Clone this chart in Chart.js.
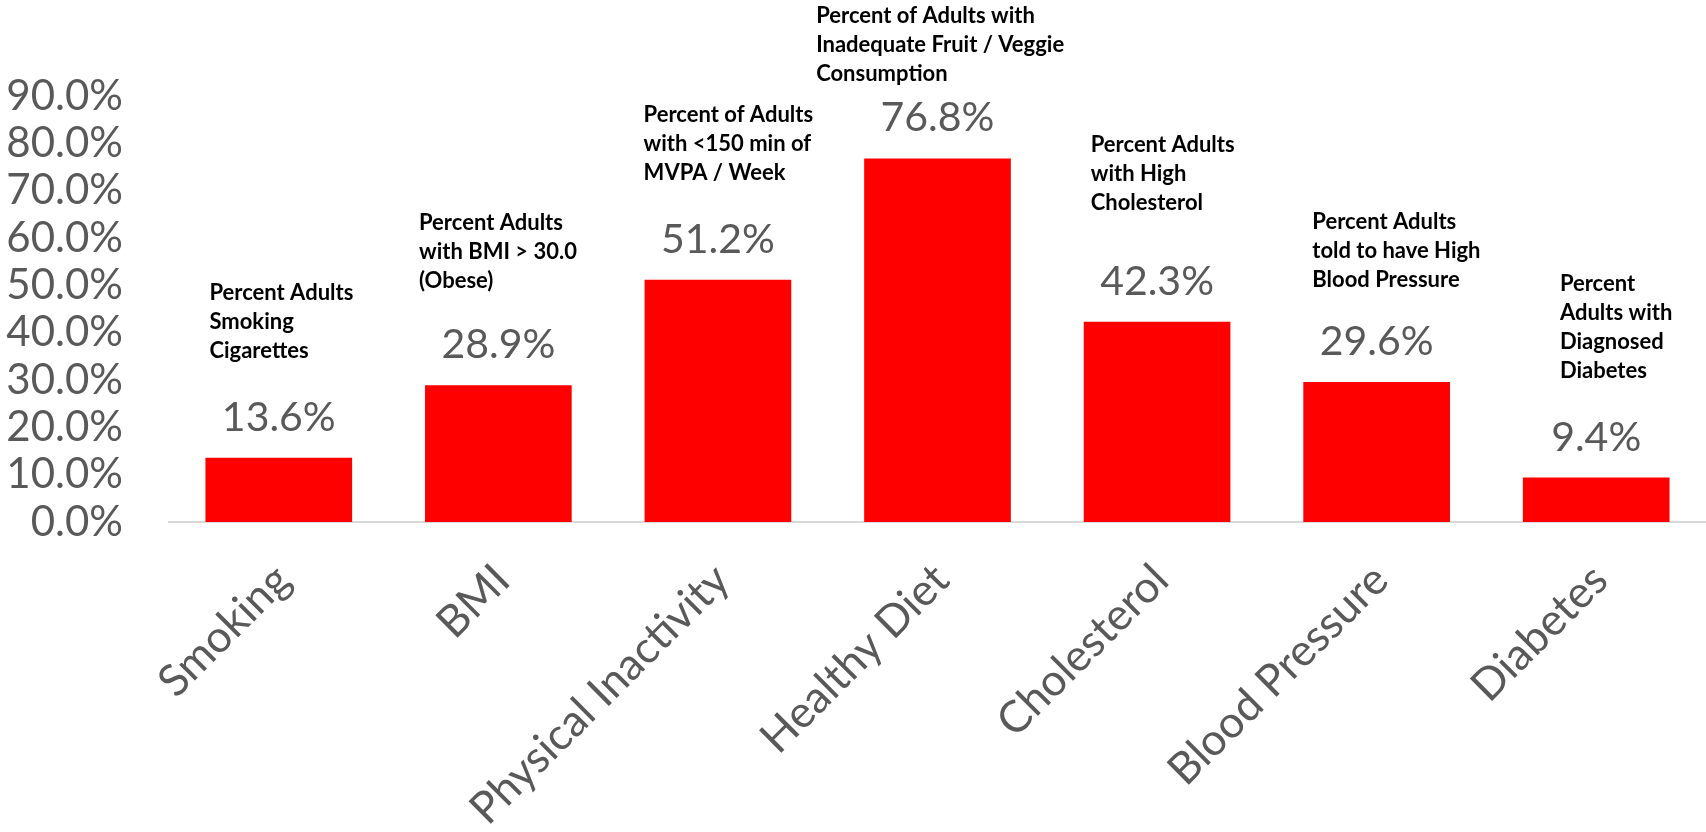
<!DOCTYPE html>
<html>
<head>
<meta charset="utf-8">
<title>Adult Risk Factors</title>
<script src="https://cdn.jsdelivr.net/npm/chart.js@4.4.1/dist/chart.umd.min.js"></script>
<style>
  html, body { margin: 0; padding: 0; background: #fff; }
  #wrap { width: 1706px; height: 832px; }
</style>
</head>
<body>
<div id="wrap"><canvas id="riskChart" width="1706" height="832"></canvas></div>
<script>
const categories = ["Smoking", "BMI", "Physical Inactivity", "Healthy Diet", "Cholesterol", "Blood Pressure", "Diabetes"];
const percents = [13.6, 28.9, 51.2, 76.8, 42.3, 29.6, 9.4];
const notes = [
  ["Percent Adults", "Smoking", "Cigarettes"],
  ["Percent Adults", "with BMI > 30.0", "(Obese)"],
  ["Percent of Adults", "with <150 min of", "MVPA / Week"],
  ["Percent of Adults with", "Inadequate Fruit / Veggie", "Consumption"],
  ["Percent Adults", "with High", "Cholesterol"],
  ["Percent Adults", "told to have High", "Blood Pressure"],
  ["Percent", "Adults with", "Diagnosed", "Diabetes"]
];
const yTicks = [0, 10, 20, 30, 40, 50, 60, 70, 80, 90];

// where each note block sits: x from the bar's left edge, y of its last line above the bar top
const noteShift = [
  [4, -107], [-6, -104], [-1, -107], [-48, -85], [7, -119], [9, -102], [37, -107]
];

const GRAY = "#595959";

// value above each bar plus the bold description block over it
const barNotes = {
  id: "barNotes",
  afterDatasetsDraw(chart) {
    const ctx = chart.ctx;
    const meta = chart.getDatasetMeta(0);
    ctx.save();
    meta.data.forEach((bar, i) => {
      const left = bar.x - bar.width / 2;
      ctx.fillStyle = GRAY;
      ctx.font = "41px Lato";
      ctx.textAlign = "center";
      ctx.textBaseline = "alphabetic";
      ctx.fillText(percents[i].toFixed(1) + "%", bar.x, bar.y - 27);

      ctx.fillStyle = "#000";
      ctx.font = "bold 22px Lato";
      ctx.textAlign = "left";
      ctx.textBaseline = "middle";
      const lines = notes[i];
      const lastY = bar.y + noteShift[i][1];
      lines.forEach((line, k) => {
        ctx.fillText(line, left + noteShift[i][0], lastY - (lines.length - 1 - k) * 29);
      });
    });
    ctx.restore();
  }
};

new Chart(document.getElementById("riskChart"), {
  type: "bar",
  data: {
    labels: categories,
    datasets: [{
      data: percents,
      backgroundColor: "#ff0000",
      borderWidth: 0,
      categoryPercentage: 1,
      barPercentage: 0.668
    }]
  },
  options: {
    responsive: false,
    animation: false,
    layout: { padding: { top: 96, right: 0, left: 0, bottom: 0 } },
    plugins: {
      legend: { display: false },
      tooltip: { enabled: false }
    },
    scales: {
      x: {
        grid: { display: false },
        border: { display: true, color: "#d9d9d9", width: 2 },
        ticks: {
          color: GRAY,
          font: { family: "Lato", size: 44 },
          minRotation: 45,
          maxRotation: 45,
          padding: 24,
          labelOffset: 4
        },
        afterFit(scale) { scale.height = 310; }
      },
      y: {
        min: 0,
        max: 90,
        grid: { display: false },
        border: { display: false },
        afterBuildTicks(scale) { scale.ticks = yTicks.map(v => ({ value: v })); },
        ticks: {
          autoSkip: false,
          color: GRAY,
          font: { family: "Lato", size: 42 },
          padding: 38,
          callback: v => v.toFixed(1) + "%"
        },
        afterFit(scale) { scale.width = 169; }
      }
    }
  },
  plugins: [barNotes]
});
</script>
</body>
</html>
